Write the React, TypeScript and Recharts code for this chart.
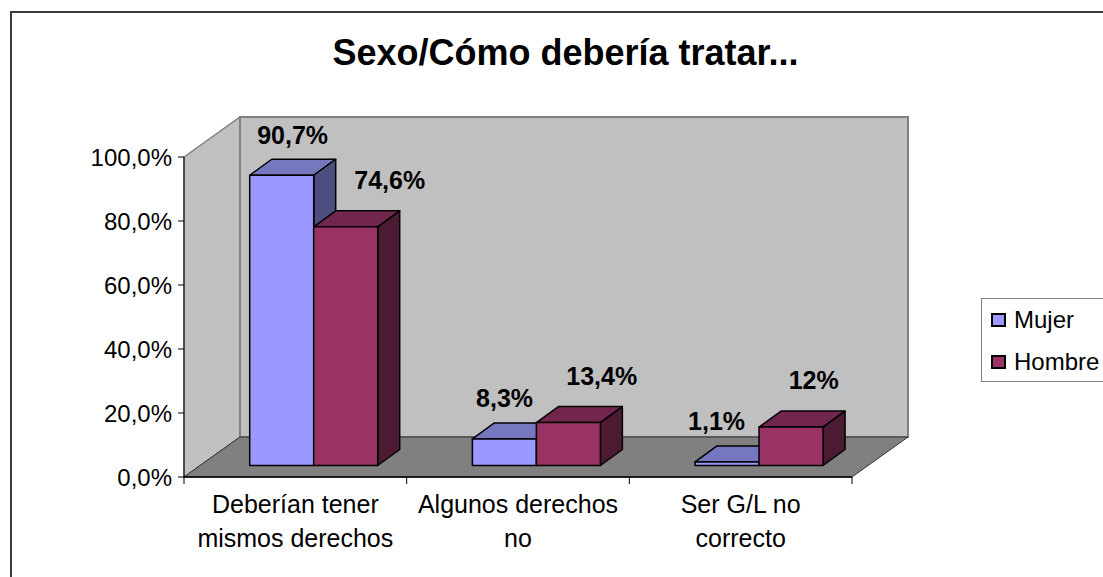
import { BarChart, Bar, XAxis, YAxis, ReferenceArea, LabelList } from "recharts";

// Sexo / Cómo debería tratar... (porcentajes por sexo)
const CATEGORIES = ["Deberían tener\nmismos derechos", "Algunos derechos\nno", "Ser G/L no\ncorrecto"];
const MUJER = [90.7, 8.3, 1.1];
const HOMBRE = [74.6, 13.4, 12];
const Y_TICKS = [0, 20, 40, 60, 80, 100];

const SERIES = [
  { key: "mujer", name: "Mujer", color: "#9999FF" },
  { key: "hombre", name: "Hombre", color: "#993366" },
];

// top / side faces for the 3D boxes
const SHADES: Record<string, { top: string; side: string }> = {
  "#9999FF": { top: "#7777BF", side: "#4D4D80" },
  "#993366": { top: "#73264D", side: "#4D1A33" },
};

const W = 1103;
const H = 577;
const AXIS_W = 184;
const RIGHT = 251;
const TOP = 157;
const X_AXIS_H = 100;
const PLOT_W = W - AXIS_W - RIGHT;
const BAND = PLOT_W / CATEGORIES.length;

// depth of the wall box and of the bars
const WALL_DX = 56;
const WALL_DY = -40;
const BAR_SHIFT_X = 18.5;
const BAR_SHIFT_Y = -11.5;
const BAR_DX = 22;
const BAR_DY = -16;

const FONT = "Arial, 'Liberation Sans', sans-serif";

const data = CATEGORIES.map((c, i) => ({ name: c, mujer: MUJER[i], hombre: HOMBRE[i] }));

const fmt = (v: number) => String(v).replace(".", ",") + "%";

const Walls = (props: any) => {
  const { x, y, width, height } = props;
  const bx = x + WALL_DX;
  const by = y + WALL_DY;
  return (
    <g>
      <polygon
        points={`${x},${y} ${bx},${by} ${bx},${by + height} ${x},${y + height}`}
        fill="#C0C0C0"
        stroke="#808080"
        strokeWidth={1.5}
      />
      <rect x={bx} y={by} width={width} height={height} fill="#C0C0C0" stroke="#808080" strokeWidth={2} />
      <polygon
        points={`${x},${y + height} ${bx},${by + height} ${bx + width},${by + height} ${x + width},${y + height}`}
        fill="#808080"
        stroke="#333"
        strokeWidth={1}
      />
    </g>
  );
};

const Box3D = (props: any) => {
  const { x, y, width, height, fill } = props;
  const shade = SHADES[fill] || { top: fill, side: fill };
  const fx = x + BAR_SHIFT_X;
  const fy = y + BAR_SHIFT_Y;
  const fr = fx + width;
  const fb = fy + height;
  return (
    <g stroke="#000" strokeWidth={1.5} strokeLinejoin="round">
      <polygon
        points={`${fx},${fy} ${fx + BAR_DX},${fy + BAR_DY} ${fr + BAR_DX},${fy + BAR_DY} ${fr},${fy}`}
        fill={shade.top}
      />
      <polygon
        points={`${fr},${fy} ${fr + BAR_DX},${fy + BAR_DY} ${fr + BAR_DX},${fb + BAR_DY} ${fr},${fb}`}
        fill={shade.side}
      />
      <rect x={fx} y={fy} width={width} height={height} fill={fill} />
    </g>
  );
};

// value labels sit above the boxes and drift slightly left across the plot
const LABEL_SKEW = 0.048;
const makeLabel = (shift: number, lift: number) => (props: any) => {
  const { x, y, width, value } = props;
  const cx = Number(x) + Number(width) / 2;
  const lx = cx + shift - LABEL_SKEW * (cx - AXIS_W);
  return (
    <text x={lx} y={Number(y) + lift} textAnchor="middle" fontFamily={FONT} fontSize={25} fontWeight="bold" fill="#000">
      {fmt(value)}
    </text>
  );
};

const CategoryTick = (props: any) => {
  const { x, y, payload, index } = props;
  const lines = String(payload.value).split("\n");
  const half = BAND / 2;
  return (
    <g>
      <line x1={x - half} y1={y} x2={x - half} y2={y + 7} stroke="#000" />
      {index === CATEGORIES.length - 1 && <line x1={x + half} y1={y} x2={x + half} y2={y + 7} stroke="#000" />}
      {lines.map((l, i) => (
        <text key={i} x={x} y={y + 36 + i * 34} textAnchor="middle" fontFamily={FONT} fontSize={25} fill="#000">
          {l}
        </text>
      ))}
    </g>
  );
};

const LegendBox = () => (
  <div
    style={{
      position: "absolute",
      left: 981,
      top: 298,
      boxSizing: "border-box",
      width: 200,
      height: 84,
      border: "1px solid #808080",
      background: "#fff",
      paddingTop: 3,
      fontFamily: FONT,
      fontSize: 24,
    }}
  >
    {SERIES.map((s) => (
      <div key={s.key} style={{ display: "flex", alignItems: "center", height: 36, marginBottom: 6 }}>
        <span
          style={{
            display: "inline-block",
            boxSizing: "border-box",
            width: 15,
            height: 14,
            background: s.color,
            border: "2px solid #000",
            marginLeft: 9,
            marginRight: 8,
          }}
        />
        <span style={{ color: "#000" }}>{s.name}</span>
      </div>
    ))}
  </div>
);

export default function App() {
  return (
    <div style={{ position: "fixed", left: 0, top: 0, width: W, height: H, overflow: "hidden", background: "#fff" }}>
      <div
        style={{
          position: "absolute",
          left: 10,
          top: 11,
          width: W + 50,
          height: H + 50,
          border: "2px solid #3A3A3A",
        }}
      />
      <div
        style={{
          position: "absolute",
          left: 0,
          top: 35,
          width: 1131,
          textAlign: "center",
          fontFamily: FONT,
          fontWeight: "bold",
          fontSize: 36,
          lineHeight: "36px",
          color: "#000",
        }}
      >
        Sexo/Cómo debería tratar...
      </div>
      <div style={{ position: "absolute", left: 0, top: 0 }}>
        <BarChart
          width={W}
          height={H}
          data={data}
          margin={{ top: TOP, right: RIGHT, bottom: 0, left: 0 }}
          barCategoryGap="21.2%"
          barGap={0}
        >
          <ReferenceArea y1={0} y2={100} shape={Walls} ifOverflow="visible" zIndex={-100} />
          <XAxis
            dataKey="name"
            height={X_AXIS_H}
            tickLine={false}
            tickSize={0}
            tickMargin={0}
            axisLine={{ stroke: "#000", strokeWidth: 1.5 }}
            tick={CategoryTick}
            interval={0}
          />
          <YAxis
            width={AXIS_W}
            domain={[0, 100]}
            ticks={Y_TICKS}
            tickFormatter={(v: number) => v.toFixed(1).replace(".", ",") + "%"}
            tickSize={6}
            tickMargin={6}
            tickLine={{ stroke: "#000" }}
            axisLine={{ stroke: "#000" }}
            tick={{ fill: "#000", fontSize: 24, fontFamily: FONT }}
          />
          <Bar dataKey="mujer" name="Mujer" fill="#9999FF" shape={Box3D} isAnimationActive={false}>
            <LabelList dataKey="mujer" content={makeLabel(33.2, -43)} />
          </Bar>
          <Bar dataKey="hombre" name="Hombre" fill="#993366" shape={Box3D} isAnimationActive={false}>
            <LabelList dataKey="hombre" content={makeLabel(69.4, -49.5)} />
          </Bar>
        </BarChart>
      </div>
      <LegendBox />
    </div>
  );
}
